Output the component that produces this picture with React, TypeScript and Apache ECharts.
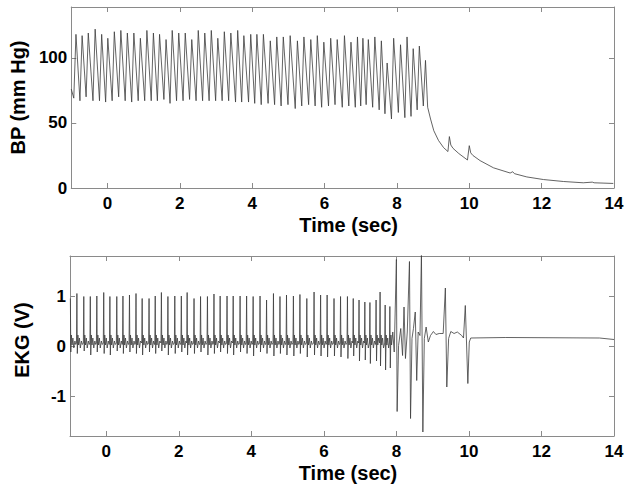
import React, { useEffect, useRef } from 'react';
import * as echarts from 'echarts';

// ---------- tick labels ----------
const xTickValues = [0, 2, 4, 6, 8, 10, 12, 14];
const bpTickValues = [0, 50, 100];
const ekgTickValues = [-1, 0, 1];

// ---------- blood pressure (mm Hg) ----------
const bpLeadTimes = [-1.0];
const bpLeadValues = [76];
const bpPeakTimes = [
  -0.87, -0.7, -0.53, -0.34, -0.16, 0.01, 0.19, 0.37, 0.55, 0.73,
  0.91, 1.09, 1.27, 1.44, 1.62, 1.79, 1.97, 2.15, 2.33, 2.51,
  2.69, 2.87, 3.05, 3.23, 3.41, 3.6, 3.77, 3.96, 4.13, 4.31,
  4.5, 4.68, 4.86, 5.05, 5.25, 5.43, 5.62, 5.8, 5.98, 6.17,
  6.35, 6.55, 6.73, 6.91, 7.06, 7.21, 7.39, 7.57, 7.73, 7.91,
  8.1, 8.28, 8.45, 8.62, 8.79,
];
const bpPeakValues = [
  118, 117, 119, 122, 118, 115, 120, 121, 119, 119,
  115, 121, 119, 118, 114, 121, 119, 119, 114, 121,
  119, 121, 115, 120, 119, 121, 117, 118, 118, 118,
  113, 116, 116, 117, 113, 116, 114, 117, 112, 115,
  114, 117, 112, 116, 115, 114, 116, 113, 96, 115,
  110, 116, 107, 109, 98,
];
const bpTroughValues = [
  69, 67, 70, 67, 67, 66, 67, 70, 67, 66,
  67, 67, 67, 67, 68, 65, 67, 67, 68, 67,
  67, 67, 67, 67, 67, 66, 66, 66, 65, 64,
  65, 64, 63, 64, 61, 63, 64, 63, 62, 63,
  64, 62, 63, 62, 63, 64, 62, 60, 57, 53,
  58, 54, 55, 60, 63,
];
const bpTailTimes = [
  8.85, 8.93, 9.02, 9.15, 9.29, 9.41, 9.45, 9.49, 9.55, 9.71,
  9.95, 10.0, 10.04, 10.1, 10.3, 10.67, 11.13, 11.2, 11.25, 11.59,
  12.05, 12.6, 13.15, 13.4, 13.45, 13.98,
];
const bpTailValues = [
  62, 53, 44, 36.5, 31, 28, 39.5, 33, 30.5, 26.5,
  21.5, 32.5, 27, 25, 21, 15.5, 11.5, 12.5, 11, 8.5,
  6.5, 5, 4, 4.5, 4, 3.5,
];
const BP_UPSTROKE = 0.06; // s, trough precedes peak

// ---------- EKG (V) ----------
const ekgRTimes = [
  -0.99, -0.81, -0.62, -0.44, -0.26, -0.07, 0.1, 0.29, 0.46, 0.64,
  0.82, 0.99, 1.18, 1.35, 1.52, 1.7, 1.89, 2.07, 2.23, 2.42,
  2.6, 2.79, 2.97, 3.14, 3.33, 3.5, 3.69, 3.87, 4.05, 4.24,
  4.42, 4.61, 4.79, 4.97, 5.16, 5.34, 5.53, 5.73, 5.91, 6.09,
  6.28, 6.46, 6.65, 6.81, 6.97, 7.13, 7.27, 7.44, 7.55, 7.69, 7.82,
];
const ekgRValues = [
  0.95, 1.05, 0.99, 0.99, 1.0, 1.07, 0.99, 0.99, 1.0, 1.02,
  1.05, 0.95, 0.95, 1.0, 1.07, 0.99, 1.0, 1.0, 1.07, 0.95,
  0.99, 0.99, 1.04, 1.0, 1.0, 1.0, 1.0, 1.0, 0.99, 1.0,
  0.92, 1.05, 0.99, 1.02, 1.0, 1.03, 0.95, 1.08, 1.02, 1.02,
  0.95, 0.99, 0.99, 0.95, 0.92, 0.88, 0.87, 0.92, 1.08, 0.82, 0.79,
];
const ekgSValues = [
  -0.12, -0.15, -0.1, -0.18, -0.12, -0.15, -0.18, -0.1, -0.15, -0.12,
  -0.15, -0.18, -0.12, -0.15, -0.1, -0.18, -0.15, -0.12, -0.18, -0.15,
  -0.12, -0.18, -0.15, -0.12, -0.15, -0.18, -0.12, -0.15, -0.2, -0.12,
  -0.15, -0.2, -0.15, -0.18, -0.2, -0.15, -0.22, -0.18, -0.2, -0.22,
  -0.2, -0.22, -0.25, -0.2, -0.3, -0.28, -0.35, -0.3, -0.4, -0.48, -0.44,
];
// inter-beat wiggle (offset after R in s, value in V)
const ekgWaveOffsets = [-0.012, 0.012, 0.028, 0.047, 0.07, 0.095, 0.125, 0.15];
const ekgWaveValues = [0.06, null, 0.22, 0.02, 0.16, -0.04, 0.1, 0.03];
const ekgTailTimes = [
  7.9, 7.94, 8.0, 8.02, 8.06, 8.12, 8.17, 8.21, 8.25, 8.3,
  8.36, 8.39, 8.43, 8.47, 8.52, 8.56, 8.6, 8.65, 8.69, 8.73,
  8.77, 8.82, 8.88, 8.94, 9.02, 9.09, 9.18, 9.29, 9.35, 9.39,
  9.44, 9.5, 9.59, 9.68, 9.8, 9.85, 9.9, 9.97, 10.01, 10.05,
  11.0, 13.6, 14.0,
];
const ekgTailValues = [
  0.28, -0.12, 1.73, -1.31, 0.01, 0.35, -0.19, 0.78, -0.25, 0.28,
  1.69, -1.45, 0.15, 0.35, 0.68, -0.69, 0.28, 0.21, 1.85, -1.72,
  0.15, 0.38, 0.08, 0.21, 0.29, 0.23, 0.25, 0.25, 1.16, -0.82,
  0.15, 0.29, 0.25, 0.28, 0.21, 0.16, 0.81, -0.75, 0.08, 0.16,
  0.17, 0.16, 0.13,
];

function buildBp(): [number, number][] {
  const pts: [number, number][] = [];
  bpLeadTimes.forEach((t, i) => pts.push([t, bpLeadValues[i]]));
  bpPeakTimes.forEach((t, i) => {
    pts.push([t - BP_UPSTROKE, bpTroughValues[i]]);
    pts.push([t, bpPeakValues[i]]);
  });
  bpTailTimes.forEach((t, i) => pts.push([t, bpTailValues[i]]));
  return pts;
}

function buildEkg(): [number, number][] {
  const pts: [number, number][] = [];
  ekgRTimes.forEach((t, i) => {
    const next = i + 1 < ekgRTimes.length ? ekgRTimes[i + 1] : ekgTailTimes[0];
    const prev = i > 0 ? ekgRTimes[i - 1] : -Infinity;
    ekgWaveOffsets.forEach((o, k) => {
      const tt = t + o;
      if (o < 0) {
        if (tt > -1 && tt > prev + 0.06) pts.push([tt, ekgWaveValues[k] as number]);
        pts.push([t, ekgRValues[i]]);
      } else if (k === 1) {
        pts.push([tt, ekgSValues[i]]);
      } else if (tt < next - 0.02) {
        pts.push([tt, ekgWaveValues[k] as number]);
      }
    });
  });
  ekgTailTimes.forEach((t, i) => pts.push([t, ekgTailValues[i]]));
  return pts.filter((p) => p[0] >= -1);
}

const FONT = "'Liberation Sans', Arial, Helvetica, sans-serif";
const AXIS_COLOR = '#8a8a8a';
const LINE_COLOR = '#3c3c3c';

function xAxes(gridIndex: number) {
  const base = {
    gridIndex,
    type: 'value' as const,
    min: -1,
    max: 14,
    splitLine: { show: false },
    axisLine: { show: true, onZero: false, lineStyle: { color: AXIS_COLOR, width: 1 } },
    axisTick: { show: true, inside: true, length: 5, customValues: xTickValues, lineStyle: { color: AXIS_COLOR } },
  };
  return [
    {
      ...base,
      position: 'bottom',
      name: 'Time (sec)',
      nameLocation: 'middle',
      nameGap: 27,
      nameTextStyle: { fontFamily: FONT, fontWeight: 'bold', fontSize: 20, color: '#000', padding: [0, 0, 0, 12] },
      axisLabel: { show: true, customValues: xTickValues, margin: 7, fontFamily: FONT, fontWeight: 'bold', fontSize: 17, color: '#000' },
    },
    { ...base, position: 'top', axisLabel: { show: false } },
  ];
}

function yAxes(gridIndex: number, min: number, max: number, ticks: number[], name: string, pad: number[]) {
  const base = {
    gridIndex,
    type: 'value' as const,
    min,
    max,
    splitLine: { show: false },
    axisLine: { show: true, onZero: false, lineStyle: { color: AXIS_COLOR, width: 1 } },
    axisTick: { show: true, inside: true, length: 5, customValues: ticks, lineStyle: { color: AXIS_COLOR } },
  };
  return [
    {
      ...base,
      position: 'left',
      name,
      nameLocation: 'middle',
      nameGap: 38,
      nameTextStyle: { fontFamily: FONT, fontWeight: 'bold', fontSize: 20, color: '#000', padding: pad },
      axisLabel: { show: true, customValues: ticks, margin: 4, fontFamily: FONT, fontWeight: 'bold', fontSize: 17, color: '#000' },
    },
    { ...base, position: 'right', axisLabel: { show: false } },
  ];
}

export default function App() {
  const ref = useRef<HTMLDivElement>(null);
  useEffect(() => {
    if (!ref.current) return;
    const chart = echarts.init(ref.current, undefined, { renderer: 'svg' });
    chart.setOption({
      animation: false,
      backgroundColor: '#ffffff',
      grid: [
        { left: 70, top: 7, width: 544, height: 181 },
        { left: 70, top: 256, width: 544, height: 180 },
      ],
      xAxis: [...xAxes(0), ...xAxes(1)],
      yAxis: [
        ...yAxes(0, 0, 139, bpTickValues, 'BP (mm Hg)', [0, 0, 0, 0]),
        ...yAxes(1, -1.8, 1.8, ekgTickValues, 'EKG (V)', [0, 0, 0, 12]),
      ],
      series: [
        {
          name: 'BP',
          type: 'line',
          xAxisIndex: 0,
          yAxisIndex: 0,
          data: buildBp(),
          showSymbol: false,
          clip: true,
          lineStyle: { color: LINE_COLOR, width: 0.8 },
        },
        {
          name: 'EKG',
          type: 'line',
          xAxisIndex: 2,
          yAxisIndex: 2,
          data: buildEkg(),
          showSymbol: false,
          clip: true,
          lineStyle: { color: LINE_COLOR, width: 0.8 },
        },
      ],
    });
    return () => chart.dispose();
  }, []);
  return (
    <div
      ref={ref}
      style={{ position: 'fixed', left: 0, top: 0, width: 636, height: 493, background: '#fff' }}
    />
  );
}
